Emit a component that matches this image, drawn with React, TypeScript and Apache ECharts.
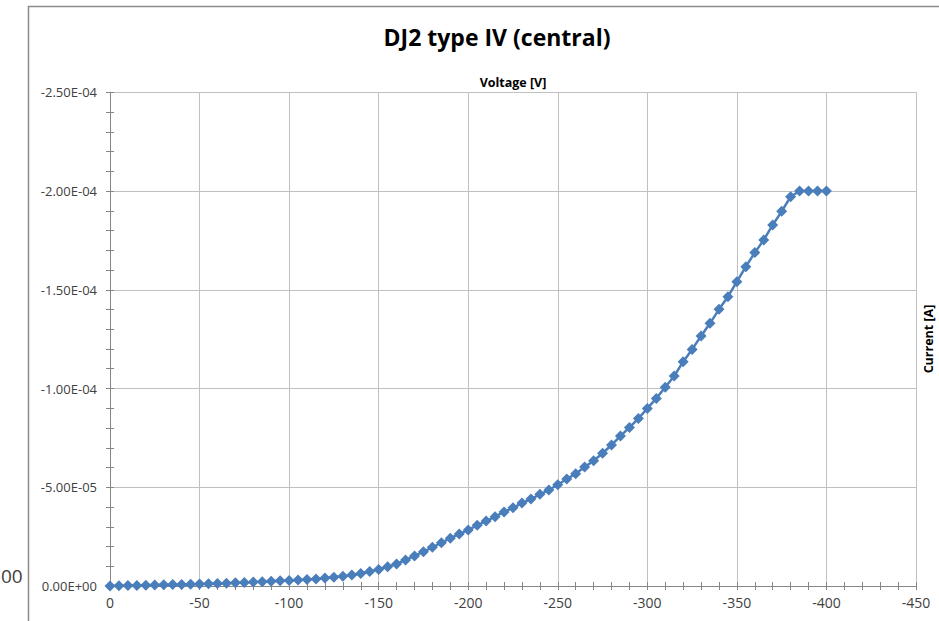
import React, { useEffect, useRef } from "react";
import * as echarts from "echarts";

const titleText = "DJ2 type IV (central)";
const xAxisName = "Voltage [V]";
const yAxisName = "Current [A]";

const voltages = [
  0, -5, -10, -15, -20, -25, -30, -35, -40, -45,
  -50, -55, -60, -65, -70, -75, -80, -85, -90, -95,
  -100, -105, -110, -115, -120, -125, -130, -135, -140, -145,
  -150, -155, -160, -165, -170, -175, -180, -185, -190, -195,
  -200, -205, -210, -215, -220, -225, -230, -235, -240, -245,
  -250, -255, -260, -265, -270, -275, -280, -285, -290, -295,
  -300, -305, -310, -315, -320, -325, -330, -335, -340, -345,
  -350, -355, -360, -365, -370, -375, -380, -385, -390, -395,
  -400,
];

const currents = [
  0, -0.1e-6, -0.2e-6, -0.3e-6, -0.4e-6, -0.5e-6, -0.6e-6, -0.7e-6, -0.8e-6, -0.9e-6,
  -1.0e-6, -1.1e-6, -1.3e-6, -1.4e-6, -1.6e-6, -1.8e-6, -2.0e-6, -2.2e-6, -2.4e-6, -2.6e-6,
  -2.8e-6, -3.0e-6, -3.3e-6, -3.6e-6, -4.0e-6, -4.4e-6, -4.9e-6, -5.6e-6, -6.3e-6, -7.3e-6,
  -8.4e-6, -9.8e-6, -11.1e-6, -13.2e-6, -15.2e-6, -17.4e-6, -19.6e-6, -21.9e-6, -24.2e-6, -26.3e-6,
  -28.4e-6, -30.7e-6, -32.9e-6, -35.1e-6, -37.5e-6, -39.6e-6, -42.0e-6, -44.0e-6, -46.4e-6, -48.6e-6,
  -51.3e-6, -54.2e-6, -56.8e-6, -60.2e-6, -63.4e-6, -67.2e-6, -71.4e-6, -75.9e-6, -80.3e-6, -84.8e-6,
  -89.9e-6, -95.0e-6, -100.6e-6, -106.3e-6, -113.6e-6, -119.8e-6, -126.6e-6, -133.0e-6, -140.1e-6, -146.5e-6,
  -154.1e-6, -161.7e-6, -168.8e-6, -175.2e-6, -182.8e-6, -189.7e-6, -197.1e-6, -200.0e-6, -200.0e-6, -200.0e-6,
  -200.0e-6,
];

const sideText = "00";

function fmtSci(v: number): string {
  if (Math.abs(v) < 1e-12) return "0.00E+00";
  const s = v.toExponential(2).toUpperCase();
  return s.replace(/E([+-])(\d)$/, "E$10$2");
}

export default function App() {
  const ref = useRef<HTMLDivElement>(null);
  useEffect(() => {
    if (!ref.current) return;
    const chart = echarts.init(ref.current, undefined, { renderer: "svg" });
    const font = "'Open Sans', 'Noto Sans', sans-serif";
    const labelColor = "#404040";
    const axisLineColor = "#868686";
    const gridColor = "#c0c0c0";
    const data = voltages.map((v, i) => [v, currents[i]]);

    const baseX = {
      type: "value" as const,
      min: -450,
      max: 0,
      interval: 50,
      inverse: true,
      gridIndex: 0,
    };
    const baseY = {
      type: "value" as const,
      min: -2.5e-4,
      max: 0,
      interval: 5e-5,
      inverse: true,
      gridIndex: 0,
    };

    chart.setOption({
      animation: false,
      backgroundColor: "#ffffff",
      title: {
        text: titleText,
        left: 492,
        top: 20,
        textAlign: "center",
        textStyle: { fontFamily: font, fontSize: 23, fontWeight: "bold", color: "#000000" },
      },
      grid: { left: 110, right: 23, top: 92.25, bottom: 35, containLabel: false },
      xAxis: [
        {
          ...baseX,
          position: "bottom",
          axisLine: { show: true, onZero: false, lineStyle: { color: axisLineColor, width: 1 } },
          axisTick: { show: true, inside: false, length: 4, lineStyle: { color: axisLineColor } },
          minorTick: { show: true, splitNumber: 5, length: 4, lineStyle: { color: axisLineColor } },
          axisLabel: {
            show: true,
            margin: 9,
            fontFamily: font,
            fontSize: 14,
            color: labelColor,
            formatter: (v: number) => String(Math.round(v)),
          },
          splitLine: { show: true, lineStyle: { color: gridColor, width: 1 } },
          minorSplitLine: { show: false },
        },
        {
          ...baseX,
          position: "bottom",
          axisLine: { show: false, onZero: false },
          axisTick: { show: true, inside: true, length: 4, lineStyle: { color: axisLineColor } },
          minorTick: { show: true, splitNumber: 5, length: 4, lineStyle: { color: axisLineColor } },
          axisLabel: { show: false },
          splitLine: { show: false },
        },
      ],
      yAxis: [
        {
          ...baseY,
          position: "left",
          axisLine: { show: true, onZero: false, lineStyle: { color: axisLineColor, width: 1 } },
          axisTick: { show: true, inside: false, length: 4, lineStyle: { color: axisLineColor } },
          minorTick: { show: true, splitNumber: 5, length: 4, lineStyle: { color: axisLineColor } },
          axisLabel: {
            show: true,
            margin: 13,
            fontFamily: font,
            fontSize: 13,
            color: labelColor,
            formatter: (v: number) => fmtSci(v),
          },
          splitLine: { show: true, lineStyle: { color: gridColor, width: 1 } },
        },
        {
          ...baseY,
          position: "left",
          axisLine: { show: false, onZero: false },
          axisTick: { show: true, inside: true, length: 4, lineStyle: { color: axisLineColor } },
          minorTick: { show: true, splitNumber: 5, length: 4, lineStyle: { color: axisLineColor } },
          axisLabel: { show: false },
          splitLine: { show: false },
        },
      ],
      series: [
        {
          type: "line",
          xAxisIndex: 0,
          yAxisIndex: 0,
          data,
          symbol: "diamond",
          symbolSize: 11,
          itemStyle: { color: "#4a7ebb" },
          lineStyle: { color: "#4a7ebb", width: 2.5 },
          z: 5,
        },
      ],
      graphic: [
        {
          type: "line",
          shape: { x1: 28, y1: 6.5, x2: 939, y2: 6.5 },
          style: { stroke: "#8c8c8c", lineWidth: 1.5 },
        },
        {
          type: "line",
          shape: { x1: 28.5, y1: 6, x2: 28.5, y2: 621 },
          style: { stroke: "#8c8c8c", lineWidth: 1.5 },
        },
        {
          type: "text",
          x: 513,
          y: 82,
          style: {
            text: xAxisName,
            fontFamily: font,
            fontSize: 12.5,
            fontWeight: "bold",
            fill: "#000000",
            align: "center",
            verticalAlign: "middle",
          },
        },
        {
          type: "text",
          x: 928,
          y: 339,
          rotation: Math.PI / 2,
          style: {
            text: yAxisName,
            fontFamily: font,
            fontSize: 12.5,
            fontWeight: "bold",
            fill: "#000000",
            align: "center",
            verticalAlign: "middle",
          },
        },
        {
          type: "text",
          x: 1,
          y: 576,
          style: {
            text: sideText,
            fontFamily: font,
            fontSize: 19,
            fill: "#404040",
            align: "left",
            verticalAlign: "middle",
          },
        },
      ],
    });
    return () => chart.dispose();
  }, []);
  return (
    <div
      ref={ref}
      style={{ position: "fixed", left: 0, top: 0, width: 939, height: 621, background: "#fff" }}
    />
  );
}
